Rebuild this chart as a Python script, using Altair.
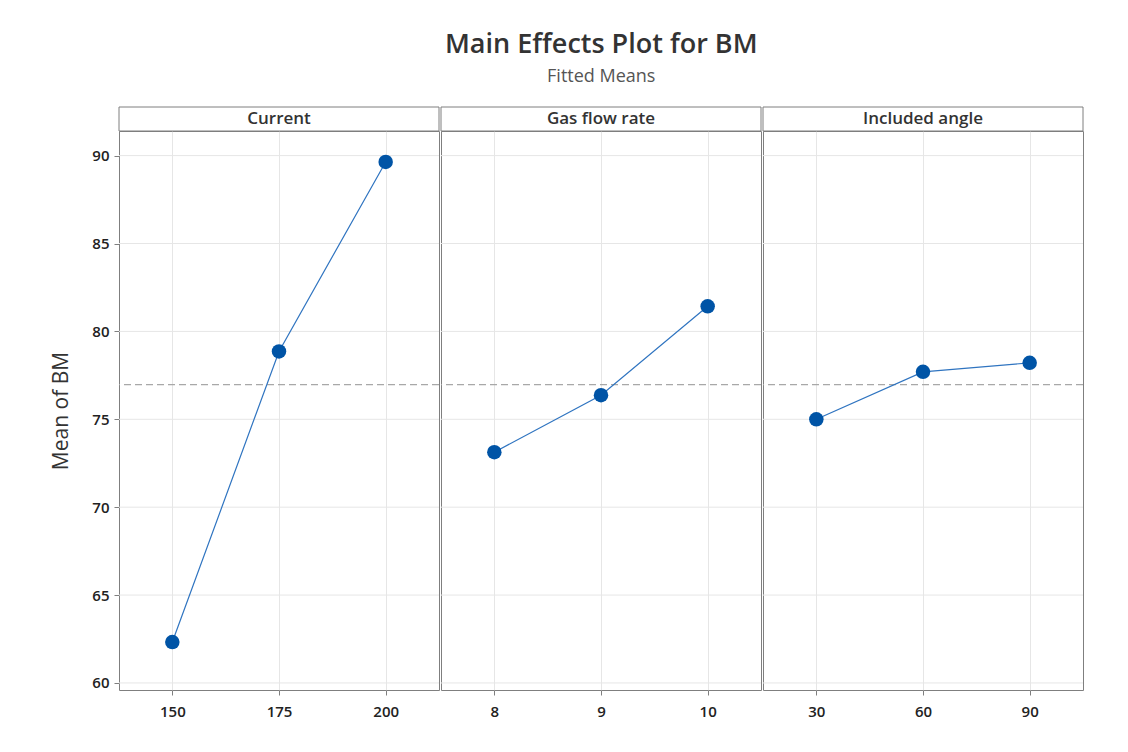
import altair as alt
import pandas as pd

# ---- data ----
factors = ["Current", "Gas flow rate", "Included angle"]
current_levels = [150, 175, 200]
current_means = [62.33, 78.86, 89.64]
gas_levels = [8, 9, 10]
gas_means = [73.13, 76.37, 81.43]
angle_levels = [30, 60, 90]
angle_means = [75.00, 77.70, 78.21]
grand_mean = 76.97
y_ticks = [60, 65, 70, 75, 80, 85, 90]

FONT = "Open Sans"
BLUE = "#0054A6"
LINE_BLUE = "#2F74C0"
GRAY = "#7F7F7F"
GRID = "#E6E6E6"

PANEL_W = 320
PANEL_H = 559
STRIP_H = 24
y_scale = alt.Scale(domain=[59.6, 91.4], nice=False, zero=False)


def panel(name, levels, means, first):
    df = pd.DataFrame({"level": levels, "mean": means})
    step = levels[1] - levels[0]
    xs = alt.Scale(domain=[levels[0] - step / 2, levels[-1] + step / 2], nice=False, zero=False)
    xaxis = alt.Axis(values=levels, title=None, format="d", grid=True, domain=False,
                     tickColor=GRAY, tickSize=5, labelFontSize=15, labelFontWeight=600,
                     labelColor="#222222", labelFont=FONT, labelPadding=9, gridColor=GRID)
    if first:
        yaxis = alt.Axis(values=y_ticks, title="Mean of BM", grid=False, domain=False,
                         tickColor=GRAY, tickSize=5, labelFontSize=15, labelFontWeight=600,
                         labelColor="#222222", labelFont=FONT, labelPadding=5,
                         titleFont=FONT, titleFontSize=21, titleFontWeight=500,
                         titleColor="#333333", titlePadding=20)
    else:
        yaxis = None
    grid = alt.Chart(pd.DataFrame({"t": y_ticks})).mark_rule(color=GRID, strokeWidth=1).encode(
        y=alt.Y("t:Q", scale=y_scale, axis=yaxis)
    )
    base = alt.Chart(df)
    line = base.mark_line(color=LINE_BLUE, strokeWidth=1.2).encode(
        x=alt.X("level:Q", scale=xs, axis=xaxis),
        y=alt.Y("mean:Q", scale=y_scale, axis=yaxis),
    )
    pts = base.mark_circle(size=210, color=BLUE, opacity=1).encode(
        x=alt.X("level:Q", scale=xs, axis=xaxis),
        y=alt.Y("mean:Q", scale=y_scale, axis=yaxis),
    )
    rule = alt.Chart(pd.DataFrame({"gm": [grand_mean]})).mark_rule(
        color="#A8A8A8", strokeDash=[7, 4], strokeWidth=1.3
    ).encode(y=alt.Y("gm:Q", scale=y_scale, axis=yaxis))
    lab = pd.DataFrame({"f": [name]})
    strip_box = alt.Chart(lab).mark_rect(fill="white", stroke=GRAY, strokeWidth=1, clip=False).encode(
        x=alt.value(0), x2=alt.value(PANEL_W), y=alt.value(-STRIP_H), y2=alt.value(0)
    )
    strip_text = alt.Chart(lab).mark_text(
        font=FONT, fontSize=17, fontWeight=600, color="#333333", baseline="middle", clip=False
    ).encode(text="f:N", x=alt.value(PANEL_W / 2), y=alt.value(-STRIP_H / 2))
    return alt.layer(grid, rule, line, pts, strip_box, strip_text).properties(
        width=PANEL_W, height=PANEL_H)


data = [(current_levels, current_means), (gas_levels, gas_means), (angle_levels, angle_means)]
panels = [panel(name, lv, mn, i == 0) for i, (name, (lv, mn)) in enumerate(zip(factors, data))]

chart = alt.hconcat(*panels, spacing=-8).properties(
    title=alt.TitleParams(
        text="Main Effects Plot for BM",
        subtitle="Fitted Means",
        font=FONT, fontSize=27, fontWeight=600, color="#333333",
        subtitleFont=FONT, subtitleFontSize=18, subtitleColor="#555555",
        anchor="middle", offset=19, subtitlePadding=9, dx=34,
    ),
    padding={"left": 50, "top": 31, "right": 10, "bottom": 10},
    background="white",
).configure_view(stroke=GRAY, strokeWidth=1)

chart.save("out.html", embed_options={"renderer": "svg", "actions": False})
